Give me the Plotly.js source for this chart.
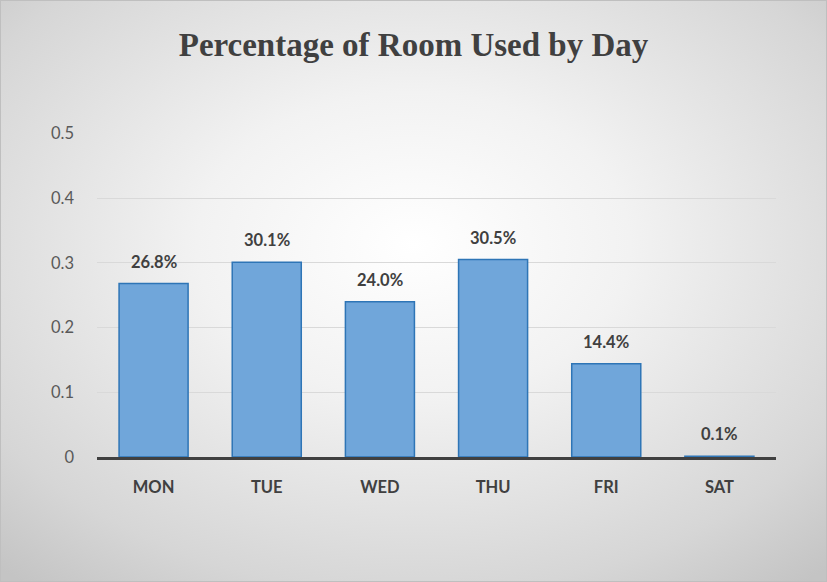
<!DOCTYPE html>
<html><head><meta charset="utf-8">
<script src="https://cdn.plot.ly/plotly-3.0.1.min.js"></script>
<style>
html,body{margin:0;padding:0;}
#wrap{width:827px;height:582px;position:relative;background:radial-gradient(ellipse 75% 75% at 50% 42%, #ffffff 0%, #f2f2f2 35%, #d6d6d6 80%, #c4c4c4 100%);box-sizing:border-box;border:1px solid #bfbfbf;}
#chart{width:825px;height:580px;}
</style></head>
<body><div id="wrap"><div id="chart"></div></div>
<script>
const days = ["MON","TUE","WED","THU","FRI","SAT"];
const usage = [0.268, 0.301, 0.240, 0.305, 0.144, 0.001];
const labels = ["26.8%","30.1%","24.0%","30.5%","14.4%","0.1%"];
const yTicks = [0, 0.1, 0.2, 0.3, 0.4, 0.5];
const yTickText = ["0","0.1","0.2","0.3","0.4","0.5"];

const labelFont = {family:'Lato, Open Sans, sans-serif', size:16.5, color:'#404040', weight:'bold'};
const annotations = days.map((d,i)=>({x:d, y:usage[i], xref:'x', yref:'y', text:labels[i], showarrow:false,
  yanchor:'bottom', yshift:10, font:labelFont}));

Plotly.newPlot('chart', [{
  type:'bar', x:days, y:usage,
  marker:{color:'#70a6da', line:{color:'#2e75b6', width:1.5}},
  hoverinfo:'none'
}], {
  width:825, height:580,
  paper_bgcolor:'rgba(0,0,0,0)', plot_bgcolor:'rgba(0,0,0,0)',
  margin:{l:96, r:50, t:132, b:124},
  bargap:0.39,
  showlegend:false,
  annotations:annotations,
  title:{text:'<b>Percentage of Room Used by Day</b>', x:0.5, xanchor:'center', y:0.925, yanchor:'middle',
    font:{family:'Liberation Serif, Times New Roman, serif', size:33, color:'#404040'}},
  xaxis:{showgrid:false, zeroline:false, showline:true, linecolor:'#404040', linewidth:2.5,
    ticks:'', ticklabelstandoff:14,
    tickfont:{family:'Lato, Open Sans, sans-serif', size:16.5, color:'#404040', weight:'bold'}},
  yaxis:{range:[0,0.5005], tickvals:yTicks, ticktext:yTickText, showgrid:true, gridcolor:'#d9d9d9', gridwidth:1,
    zeroline:false, showline:false, ticks:'', ticklabelstandoff:22,
    tickfont:{family:'Lato, Open Sans, sans-serif', size:16.5, color:'#595959'}}
}, {staticPlot:true});
</script></body></html>
